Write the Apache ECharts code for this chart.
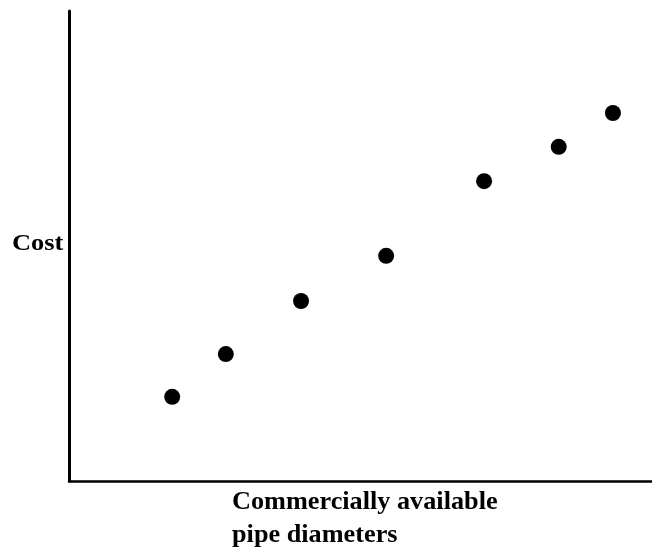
<!DOCTYPE html>
<html><head><meta charset="utf-8">
<script src="https://cdn.jsdelivr.net/npm/echarts@6/dist/echarts.min.js"></script>
<style>html,body{margin:0;padding:0;background:#fff}#c{width:652px;height:549px}</style>
</head><body><div id="c"></div>
<script>
// Pipe diameters (relative position along x) and cost (relative height), arbitrary units 0-100
const diameters = [17.7, 26.9, 39.8, 54.4, 71.2, 84.0, 93.3];
const costs = [17.9, 27.0, 38.3, 47.9, 63.8, 71.1, 78.3];
const yLabel = 'Cost';
const xLabelLines = ['Commercially available', 'pipe diameters'];

const chart = echarts.init(document.getElementById('c'));
const font = '"Liberation Serif", "Times New Roman", serif';
chart.setOption({
  animation: false,
  backgroundColor: '#fff',
  grid: { left: 69, right: 0, top: 11, bottom: 68 },
  xAxis: { type: 'value', min: 0, max: 100, axisLine: { lineStyle: { color: '#000', width: 2.5 } },
    axisTick: { show: false }, axisLabel: { show: false }, splitLine: { show: false } },
  yAxis: { type: 'value', min: 0, max: 100, axisLine: { show: true, lineStyle: { color: '#000', width: 3 } },
    axisTick: { show: false }, axisLabel: { show: false }, splitLine: { show: false } },
  series: [{ type: 'scatter', symbolSize: 16, itemStyle: { color: '#000', opacity: 1 },
    data: diameters.map((d, i) => [d, costs[i]]) }],
  graphic: [
    { type: 'text', x: 12, y: 244, scaleX: 1.1, style: { text: yLabel, font: 'bold 24px ' + font, fill: '#000', verticalAlign: 'middle' } },
    { type: 'text', x: 232, y: 503, scaleX: 1.05, style: { text: xLabelLines[0], font: 'bold 25px ' + font, fill: '#000', verticalAlign: 'middle' } },
    { type: 'text', x: 232, y: 536, scaleX: 1.05, style: { text: xLabelLines[1], font: 'bold 25px ' + font, fill: '#000', verticalAlign: 'middle' } }
  ]
});
</script></body></html>
